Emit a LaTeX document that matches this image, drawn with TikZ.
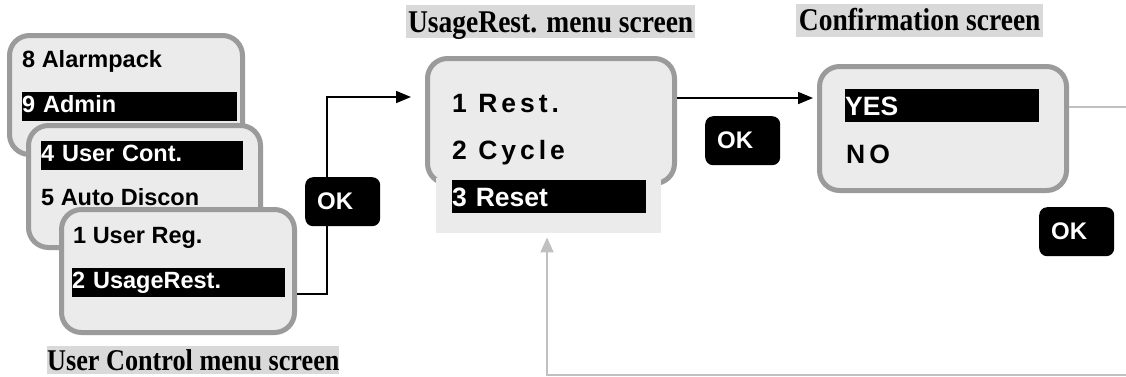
\documentclass[tikz,border=0pt]{standalone}
\usepackage{graphicx}
\usepackage{fontspec}
\setmainfont{Liberation Serif}
\newfontfamily\menufont{Liberation Sans}
\newfontfamily\wideface{Liberation Sans}[LetterSpace=15]
\usetikzlibrary{arrows.meta}
\definecolor{frame}{RGB}{155,155,155}
\definecolor{lcd}{RGB}{235,235,235}
\definecolor{capbg}{RGB}{217,217,217}
\definecolor{backline}{RGB}{192,192,192}
\newcommand{\tall}[1]{\scalebox{1}[1.15]{#1}}

\tikzset{
  screen/.style={draw=frame, line width=5pt, fill=lcd, rounded corners=20pt,
    anchor=north west, inner sep=0pt},
  entry/.style={anchor=base west, inner sep=0pt,
    font=\menufont\bfseries\fontsize{23.5}{28}\selectfont},
  entrybig/.style={entry, font=\bfseries\fontsize{26.5}{30}\selectfont},
  selbar/.style={fill=black, text=white, anchor=north west, align=left,
    inner sep=0pt, font=\menufont\bfseries\fontsize{23.5}{28}\selectfont,
    text height=20pt, text depth=9pt},
  selbarbig/.style={selbar, font=\menufont\bfseries\fontsize{26.5}{30}\selectfont,
    text height=26pt, text depth=7pt},
  okkey/.style={fill=black, text=white, rounded corners=8pt, anchor=north west,
    minimum height=49pt, text width=51pt, inner xsep=12pt, inner ysep=0pt,
    align=left, font=\menufont\bfseries\fontsize{24}{28}\selectfont},
  screentitle/.style={fill=capbg, inner sep=0pt, anchor=north west,
    text height=27pt, text depth=6pt,
    font=\bfseries\fontsize{27.5}{30}\selectfont},
  flow/.style={line width=1.6pt, -{Triangle[length=15pt,width=12pt]}},
  backflow/.style={draw=backline, line width=2pt},
}

\begin{document}
\begin{tikzpicture}[x=1pt, y=-1pt]
    \useasboundingbox (0,0) rectangle (1126,376);

    % Stacked user control screens
    \node[screen, minimum width=233pt, minimum height=119pt] (scrA) at (7,33) {};
    \node[entry] (alarm) at (22,67) {8 Alarmpack};
    \node[selbar, text width=215pt] (admin) at (22,92) {9 Admin};

    \node[screen, minimum width=232pt, minimum height=122pt] (scrB) at (26,123) {};
    \node[selbar, text width=202pt] (ucont) at (41,141) {4 User Cont.};
    \node[entry] (autod) at (41,205) {5 Auto Discon};

    \node[screen, minimum width=233pt, minimum height=123pt] (scrC) at (59,207) {};
    \node[entry] (ureg) at (73,243) {1 User Reg.};
    \node[selbar, text width=213pt] (urest) at (72,268) {2 UsageRest.};

    \node[screentitle, minimum width=291pt, text height=24pt, text depth=4pt,
      font=\bfseries\fontsize{26.2}{30}\selectfont] (titleC) at (47,346) {\tall{User Control menu screen}};

    % UsageRest. menu screen
    \node[screen, minimum width=247pt, minimum height=125pt] (scrD) at (425,56) {};
    \node[fill=lcd, anchor=north west, inner sep=0pt, minimum width=225pt, minimum height=55pt] (resetP) at (436,178) {};
    \node[entrybig] (rest) at (452,112) {\wideface 1 Rest.};
    \node[entrybig] (cycle) at (452,159) {\wideface 2 Cycle};
    \node[selbarbig, text width=194pt] (reset) at (452,180) {3 Reset};

    \node[screentitle, minimum width=289pt] (titleD) at (406,5) {\tall{UsageRest. menu screen}};

    % Confirmation screen
    \node[screen, minimum width=247pt, minimum height=124pt] (scrE) at (817,64) {};
    \node[selbarbig, text width=194pt] (yes) at (845,89) {YES};
    \node[entrybig] (no) at (846,163) {\wideface NO};

    \node[screentitle, minimum width=247pt, text height=26pt, text depth=7pt] (titleE) at (796,4) {\tall{Confirmation screen}};

    % Connectors
    \coordinate (bend) at (327,97);
    \draw[flow] ([yshift=-23pt]scrC.east) -| (bend) -- ([xshift=-14pt]scrD.west |- bend);
    \coordinate (intoE) at (813,98);
    \draw[flow] (scrD.east |- intoE) -- (intoE);

    \coordinate (exitE) at (1126,107);
    \draw[backflow] (scrE.east |- exitE) -- (exitE);
    \coordinate (retR) at (1126,375);
    \coordinate (retL) at (547,375);
    \draw[backflow, -{Triangle[length=15pt,width=13pt]}] (retR) -- (retL) -- ([yshift=-4pt]resetP.south -| retL);

    % OK keys
    \node[okkey] (ok1) at (305,177) {OK};
    \node[okkey] (ok2) at (705,116) {OK};
    \node[okkey] (ok3) at (1039,207) {OK};
\end{tikzpicture}
\end{document}
